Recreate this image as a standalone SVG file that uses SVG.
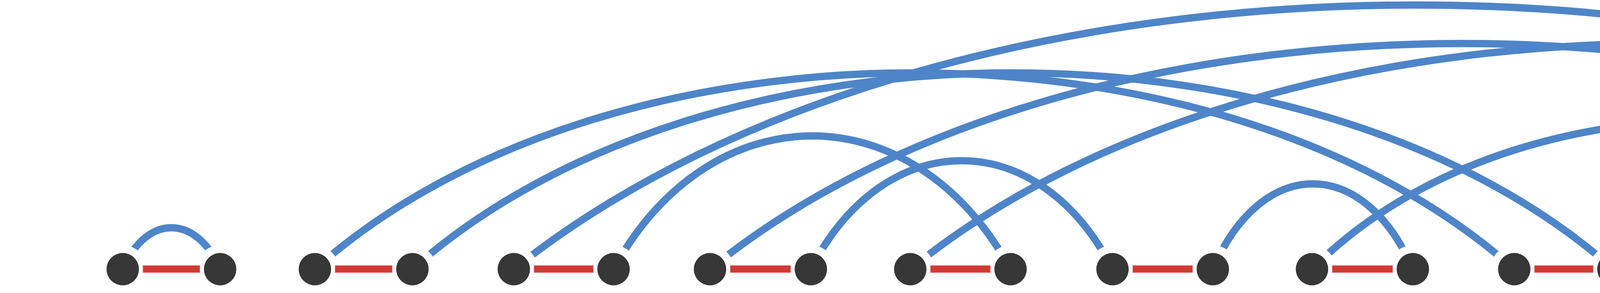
<svg xmlns="http://www.w3.org/2000/svg" width="6500" height="750" viewBox="0 0 6500 750">
<style>
.node{fill:#373737}
.bar{fill:#d03a32;stroke:#eab0ac;stroke-width:1.2}
.arc{fill:none;stroke:#4e85c8;stroke-width:18.7}
</style>
<defs>
<mask id="trim" maskUnits="userSpaceOnUse" x="0" y="0" width="6500" height="750">
<rect x="0" y="0" width="6500" height="750" fill="#fff"/>
<g fill="#000">
<circle cx="314.2" cy="689" r="61.3"/><circle cx="563.5" cy="689" r="61.3"/>
<circle cx="806.1" cy="689" r="61.3"/><circle cx="1055.8" cy="689" r="61.3"/>
<circle cx="1315.4" cy="689" r="61.3"/><circle cx="1570.7" cy="689" r="61.3"/>
<circle cx="1817.6" cy="689" r="61.3"/><circle cx="2075.8" cy="689" r="61.3"/>
<circle cx="2330.3" cy="689" r="61.3"/><circle cx="2587" cy="689" r="61.3"/>
<circle cx="2848" cy="689" r="61.3"/><circle cx="3104.8" cy="689" r="61.3"/>
<circle cx="3358.7" cy="689" r="61.3"/><circle cx="3616.9" cy="689" r="61.3"/>
<circle cx="3876.5" cy="689" r="61.3"/><circle cx="4130.4" cy="689" r="61.3"/>
<circle cx="4387.7" cy="689" r="61.3"/><circle cx="4643" cy="689" r="61.3"/>
<circle cx="4899.8" cy="689" r="61.3"/><circle cx="5155.2" cy="689" r="61.3"/>
<circle cx="5416.1" cy="689" r="61.3"/><circle cx="5672.9" cy="689" r="61.3"/>
<circle cx="5932.5" cy="689" r="61.3"/><circle cx="6187.8" cy="689" r="61.3"/>
</g>
</mask>
</defs>
<rect x="0" y="0" width="6500" height="750" fill="#fff"/>
<g id="connectors">
<g id="arcs" mask="url(#trim)">
<path class="arc" d="M314.2,689 C375.3,547.4 502.4,547.4 563.5,689"/>
<path class="arc" d="M806.1,689 C1558.3,19 3124.3,19 3876.5,689"/>
<path class="arc" d="M1055.8,689 C1809.1,19 3377.1,19 4130.4,689"/>
<path class="arc" d="M1315.4,689 C2446.6,-212.6 4801.3,-212.6 5932.5,689"/>
<path class="arc" d="M1570.7,689 C1819.7,234.3 2338,234.3 2587,689"/>
<path class="arc" d="M1817.6,689 C2762.1,-81.3 4728.4,-81.3 5672.9,689"/>
<path class="arc" d="M2075.8,689 C2265,318.7 2658.8,318.7 2848,689"/>
<path class="arc" d="M2330.3,689 C3275.4,-81.3 5242.7,-81.3 6187.8,689"/>
<path class="arc" d="M3104.8,689 C3230.3,397.9 3491.4,397.9 3616.9,689"/>
<path class="arc" d="M3358.7,689 C3862.8,179.9 4912,179.9 5416.1,689"/>
<path class="arc" d="M4387.7,689 C4513.2,392.1 4774.3,392.1 4899.8,689"/>
<path class="arc" d="M4643,689 C4768.5,392.1 5029.7,392.1 5155.2,689"/>
</g>
<g id="bars">
<rect class="bar" x="365.7" y="679.3" width="146.3" height="18.7"/>
<rect class="bar" x="857.6" y="679.3" width="146.7" height="18.7"/>
<rect class="bar" x="1366.9" y="679.3" width="152.3" height="18.7"/>
<rect class="bar" x="1869.1" y="679.3" width="155.2" height="18.7"/>
<rect class="bar" x="2381.8" y="679.3" width="153.7" height="18.7"/>
<rect class="bar" x="2899.5" y="679.3" width="153.8" height="18.7"/>
<rect class="bar" x="3410.2" y="679.3" width="155.2" height="18.7"/>
<rect class="bar" x="3928" y="679.3" width="150.9" height="18.7"/>
<rect class="bar" x="4439.2" y="679.3" width="152.3" height="18.7"/>
<rect class="bar" x="4951.3" y="679.3" width="152.4" height="18.7"/>
<rect class="bar" x="5467.6" y="679.3" width="153.8" height="18.7"/>
<rect class="bar" x="5984" y="679.3" width="152.3" height="18.7"/>
</g>
</g>
<g id="n1"><circle class="node" cx="314.2" cy="689" r="41.5"/></g>
<g id="n2"><circle class="node" cx="563.5" cy="689" r="41.5"/></g>
<g id="n3"><circle class="node" cx="806.1" cy="689" r="41.5"/></g>
<g id="n4"><circle class="node" cx="1055.8" cy="689" r="41.5"/></g>
<g id="n5"><circle class="node" cx="1315.4" cy="689" r="41.5"/></g>
<g id="n6"><circle class="node" cx="1570.7" cy="689" r="41.5"/></g>
<g id="n7"><circle class="node" cx="1817.6" cy="689" r="41.5"/></g>
<g id="n8"><circle class="node" cx="2075.8" cy="689" r="41.5"/></g>
<g id="n9"><circle class="node" cx="2330.3" cy="689" r="41.5"/></g>
<g id="n10"><circle class="node" cx="2587" cy="689" r="41.5"/></g>
<g id="n11"><circle class="node" cx="2848" cy="689" r="41.5"/></g>
<g id="n12"><circle class="node" cx="3104.8" cy="689" r="41.5"/></g>
<g id="n13"><circle class="node" cx="3358.7" cy="689" r="41.5"/></g>
<g id="n14"><circle class="node" cx="3616.9" cy="689" r="41.5"/></g>
<g id="n15"><circle class="node" cx="3876.5" cy="689" r="41.5"/></g>
<g id="n16"><circle class="node" cx="4130.4" cy="689" r="41.5"/></g>
<g id="n17"><circle class="node" cx="4387.7" cy="689" r="41.5"/></g>
<g id="n18"><circle class="node" cx="4643" cy="689" r="41.5"/></g>
<g id="n19"><circle class="node" cx="4899.8" cy="689" r="41.5"/></g>
<g id="n20"><circle class="node" cx="5155.2" cy="689" r="41.5"/></g>
<g id="n21"><circle class="node" cx="5416.1" cy="689" r="41.5"/></g>
<g id="n22"><circle class="node" cx="5672.9" cy="689" r="41.5"/></g>
<g id="n23"><circle class="node" cx="5932.5" cy="689" r="41.5"/></g>
<g id="n24"><circle class="node" cx="6187.8" cy="689" r="41.5"/></g>
</svg>
